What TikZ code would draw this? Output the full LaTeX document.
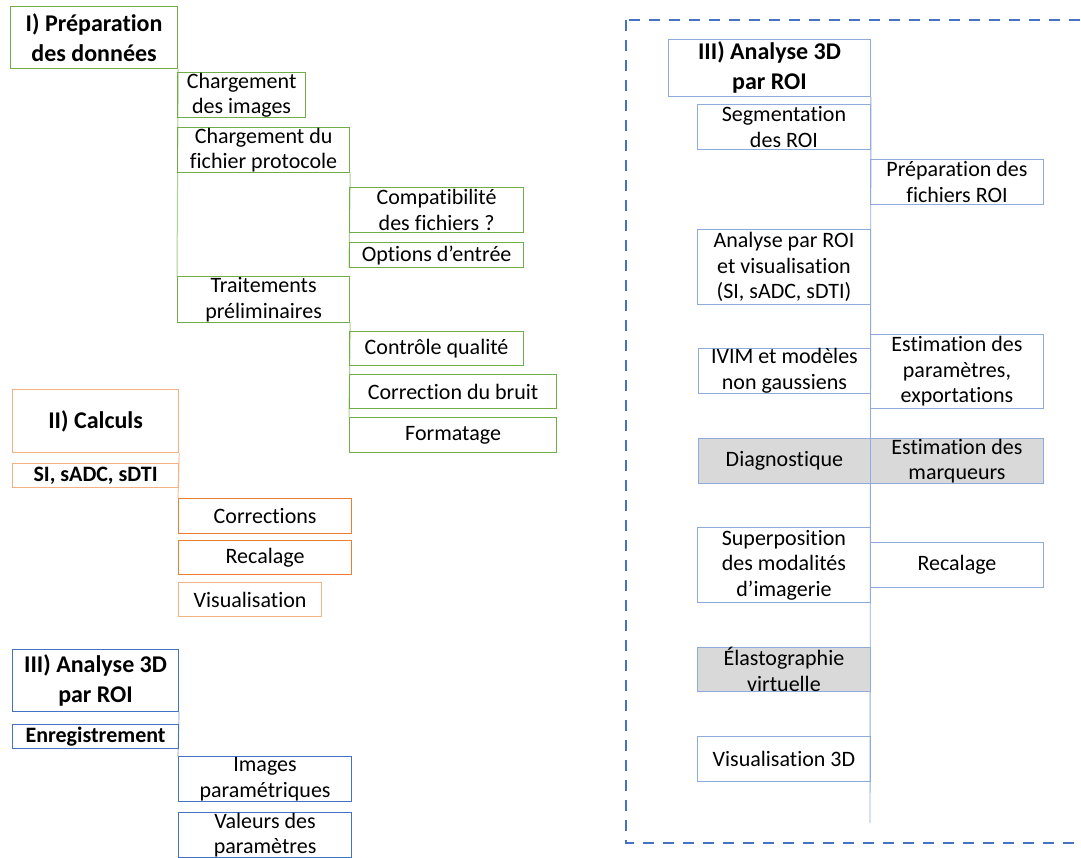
\documentclass[tikz,border=0pt]{standalone}
\usepackage{fontspec}
\setmainfont{Carlito}[Ligatures=NoCommon]
\usetikzlibrary{backgrounds}
\definecolor{prepgreen}{HTML}{70AD47}
\definecolor{preplink}{HTML}{A9D18E}
\definecolor{calcorange}{HTML}{ED7D31}
\definecolor{calclight}{HTML}{F4B183}
\definecolor{calclink}{HTML}{F8CBAD}
\definecolor{roiblue}{HTML}{4472C4}
\definecolor{roilink}{HTML}{B4C7E7}
\definecolor{roipale}{HTML}{8FAADC}
\definecolor{boxgrey}{HTML}{D9D9D9}
\tikzset{
  box/.style={draw, inner sep=0pt, align=center, anchor=north west, font=\fontsize{22}{25.5}\selectfont},
  titlefont/.style={font=\fontsize{24}{30}\selectfont\bfseries},
  boldfont/.style={font=\fontsize{22}{25.5}\selectfont\bfseries},
  prepbox/.style={box, draw=prepgreen, line width=1.2pt},
  calcbox/.style={box, draw=calcorange, line width=1.2pt},
  roibox/.style={box, draw=roiblue, line width=1.1pt},
  roilight/.style={box, draw=roipale, line width=0.9pt},
  framedash/.style={draw=roiblue, line width=2.8pt, dash pattern=on 11pt off 9pt}
}
\begin{document}
\begin{tikzpicture}[x=1pt,y=-1pt]
\useasboundingbox (0,0) rectangle (1081,858);
\node[prepbox, titlefont, minimum width=167, minimum height=62] (prep) at (10,6) {I) Préparation\\des données};
\node[prepbox, minimum width=128, minimum height=45] (chimg) at (177,72) {Chargement\\des images};
\node[prepbox, minimum width=172, minimum height=45] (chprot) at (177,127) {Chargement du\\fichier protocole};
\node[prepbox, minimum width=174, minimum height=45] (compat) at (349,187) {Compatibilité\\des fichiers ?};
\node[prepbox, minimum width=174, minimum height=25] (opts) at (349,242) {Options d’entrée};
\node[prepbox, minimum width=172, minimum height=46] (trait) at (177,276) {Traitements\\préliminaires};
\node[prepbox, minimum width=174, minimum height=34] (ctrl) at (349,331) {Contrôle qualité};
\node[prepbox, minimum width=207, minimum height=34] (bruit) at (349,374) {Correction du bruit};
\node[prepbox, minimum width=207, minimum height=35] (format) at (349,417) {Formatage};

\node[calcbox, draw=calclight, titlefont, minimum width=166, minimum height=63] (calc) at (12,389) {II) Calculs};
\node[calcbox, draw=calclight, boldfont, minimum width=166, minimum height=24] (sival) at (12,463) {SI, sADC, sDTI};
\node[calcbox, minimum width=173, minimum height=35] (corr) at (178,498) {Corrections};
\node[calcbox, minimum width=173, minimum height=34] (recal) at (178,540) {Recalage};
\node[calcbox, draw=calclight, minimum width=143, minimum height=34] (visu) at (178,582) {Visualisation};

\node[roibox, titlefont, minimum width=166, minimum height=62] (roi) at (12,649) {III) Analyse 3D\\par ROI};
\node[roibox, boldfont, minimum width=166, minimum height=24] (enreg) at (12,724) {Enregistrement};
\node[roibox, minimum width=173, minimum height=45] (imgpar) at (178,756) {Images\\paramétriques};
\node[roibox, minimum width=173, minimum height=45] (valpar) at (178,812) {Valeurs des\\paramètres};

\draw[framedash] (626,20) rectangle (1100,843);
\node[roilight, titlefont, minimum width=202, minimum height=57] (roir) at (668,39) {III) Analyse 3D\\par ROI};
\node[roilight, minimum width=173, minimum height=45] (segm) at (697,104) {Segmentation\\des ROI};
\node[roilight, minimum width=173, minimum height=45] (prepfich) at (870,159) {Préparation des\\fichiers ROI};
\node[roilight, minimum width=173, minimum height=75] (anaroi) at (697,229) {Analyse par ROI\\et visualisation\\(SI, sADC, sDTI)};
\node[roilight, minimum width=172, minimum height=45] (ivim) at (698,348) {IVIM et modèles\\non gaussiens};
\node[roilight, minimum width=173, minimum height=74] (estpar) at (870,334) {Estimation des\\paramètres,\\exportations};
\node[roilight, fill=boxgrey, minimum width=172, minimum height=45] (diag) at (698,438) {Diagnostique};
\node[roilight, fill=boxgrey, minimum width=173, minimum height=45] (estmar) at (870,438) {Estimation des\\marqueurs};
\node[roilight, minimum width=173, minimum height=75] (superp) at (697,527) {Superposition\\des modalités\\d’imagerie};
\node[roilight, minimum width=173, minimum height=45] (recalr) at (870,542) {Recalage};
\node[roilight, fill=boxgrey, minimum width=173, minimum height=44] (elasto) at (697,647) {Élastographie\\virtuelle};
\node[roilight, minimum width=173, minimum height=45] (visu3d) at (697,736) {Visualisation 3D};
\coordinate (roiend) at (870,823);

\begin{scope}[on background layer]
\draw[preplink, line width=1pt] (prep.south east) -- (trait.north west);
\draw[preplink, line width=1pt] (chprot.south east) -- (opts.south west);
\draw[preplink, line width=1pt] (trait.south east) -- (format.north west);
\draw[calclink, line width=1.2pt] (calc.south east) -- (corr.north west);
\draw[roilink, line width=1.2pt] (roi.south east) -- (imgpar.north west);
\draw[roipale, line width=0.9pt] (roir.south east) -- (roiend);
\end{scope}
\end{tikzpicture}
\end{document}
